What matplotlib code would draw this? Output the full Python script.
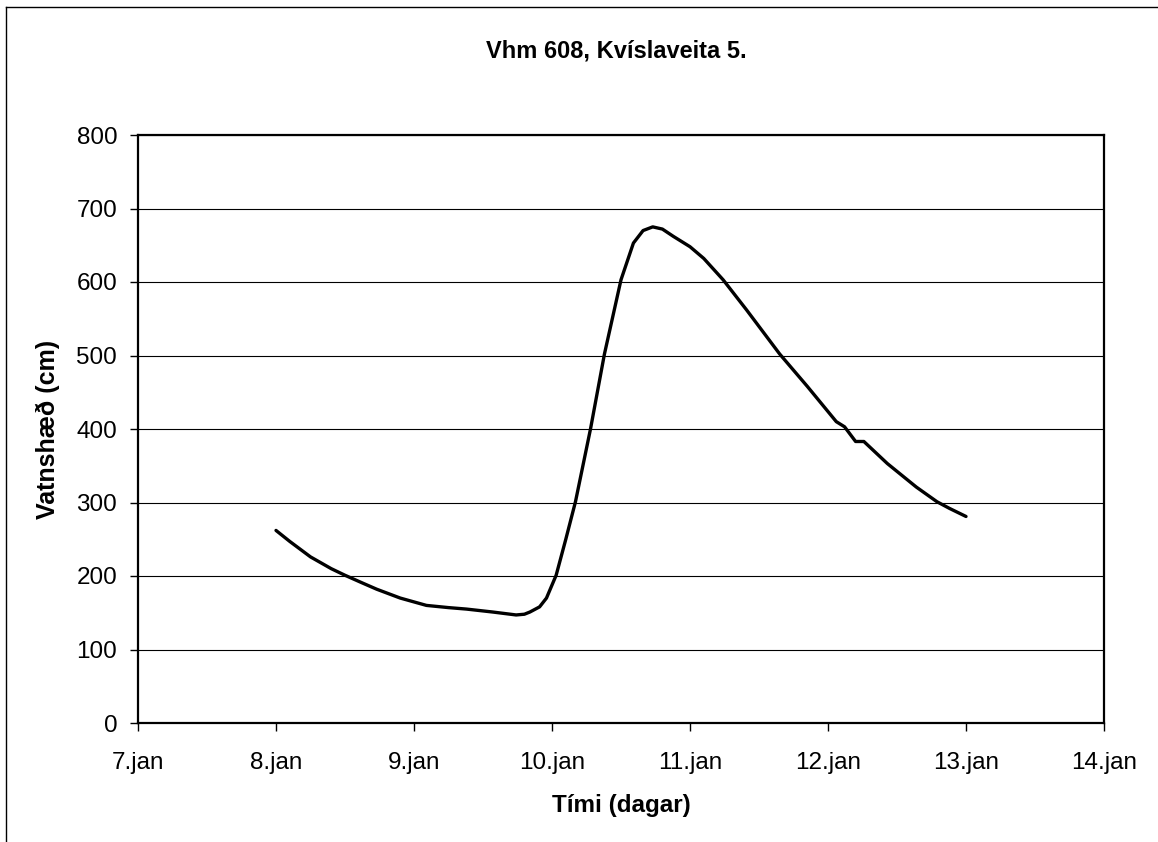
import matplotlib
matplotlib.use("Agg")
import matplotlib.pyplot as plt
from matplotlib.lines import Line2D

plt.rcParams['font.family'] = ['Liberation Sans', 'DejaVu Sans']

# Data (day of January, water level cm)
days = [8.00, 8.10, 8.25, 8.40, 8.50, 8.62, 8.73, 8.90, 9.09, 9.25, 9.38, 9.57, 9.74, 9.80, 9.84,
        9.91, 9.96, 10.03, 10.10, 10.17, 10.28, 10.38, 10.50, 10.59, 10.66, 10.73, 10.80, 10.88,
        11.00, 11.10, 11.24, 11.41, 11.55, 11.65, 11.85, 12.06, 12.12, 12.20, 12.26, 12.43,
        12.64, 12.79, 12.88, 13.00]
level = [262, 247, 226, 210, 201, 191, 182, 170, 160, 157, 155, 151, 147, 148, 151,
         158, 170, 201, 250, 301, 401, 502, 603, 653, 670, 675, 672, 662,
         648, 632, 603, 562, 527, 502, 458, 410, 403, 383, 383, 353,
         321, 301, 292, 281]

xticks = [7, 8, 9, 10, 11, 12, 13, 14]
xtick_labels = ["7.jan", "8.jan", "9.jan", "10.jan", "11.jan", "12.jan", "13.jan", "14.jan"]
yticks = [0, 100, 200, 300, 400, 500, 600, 700, 800]

fig = plt.figure(figsize=(11.58, 8.42), dpi=100)
W, H = 1158, 842
ax = fig.add_axes([138 / W, 1 - 723 / H, (1104 - 138) / W, (723 - 135) / H])

ax.plot(days, level, color='black', linewidth=2.4, solid_joinstyle='round', solid_capstyle='round')

ax.set_xlim(7, 14)
ax.set_ylim(0, 800)
ax.set_xticks(xticks)
ax.set_xticklabels(xtick_labels)
ax.set_yticks(yticks)
ax.yaxis.grid(True, color='black', linewidth=0.8)
ax.set_axisbelow(True)
for s in ax.spines.values():
    s.set_linewidth(1.6)
    s.set_color('black')
ax.tick_params(axis='both', direction='out', length=6, width=1.0, labelsize=17.5, colors='black')
ax.tick_params(axis='x', pad=15)
ax.tick_params(axis='y', pad=9)

ax.set_xlabel("Tími (dagar)", fontsize=17.5, fontweight='bold', labelpad=14)
ax.set_ylabel("Vatnshæð (cm)", fontsize=18, fontweight='bold', labelpad=12)
fig.text(616 / W, 1 - 51 / H, "Vhm 608, Kvíslaveita 5.", fontsize=17, fontweight='bold',
         ha='center', va='center')

# outer chart frame (left and top edges visible)
fig.add_artist(Line2D([6 / W, 6 / W], [0, 1 - 7 / H], transform=fig.transFigure, color='black', linewidth=1.0))
fig.add_artist(Line2D([6 / W, 1], [1 - 7 / H, 1 - 7 / H], transform=fig.transFigure, color='black', linewidth=1.0))

fig.savefig("out.png", dpi=100, facecolor='white')
